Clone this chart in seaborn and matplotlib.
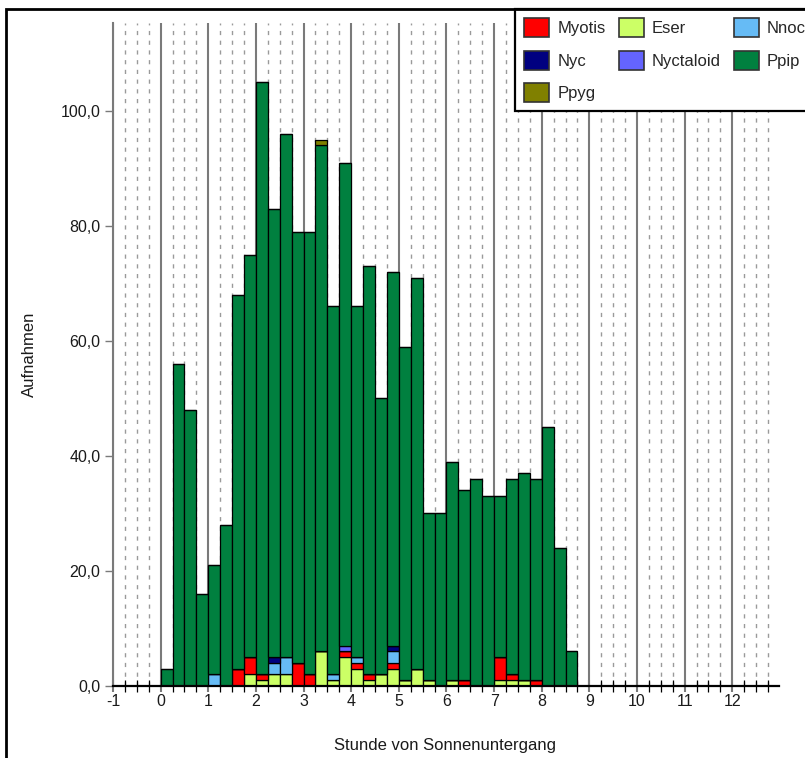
import matplotlib
matplotlib.use("Agg")
import matplotlib.pyplot as plt
from matplotlib.patches import Patch, Rectangle
from matplotlib.ticker import FuncFormatter
import numpy as np
import pandas as pd
import seaborn as sns

# ── Data: recordings per quarter hour after sunset ───────────────────────────
bin_start = np.arange(0, 8.75, 0.25)      # 35 quarter-hour bins, 0 … 8.5

eser      = [0, 0, 0, 0, 0, 0, 0, 2, 1, 2, 2, 0, 0, 6, 1, 5, 3, 1, 2, 3,
             1, 3, 1, 0, 1, 0, 0, 0, 1, 1, 1, 0, 0, 0, 0]
myotis    = [0, 0, 0, 0, 0, 0, 3, 3, 1, 0, 0, 4, 2, 0, 0, 1, 1, 1, 0, 1,
             0, 0, 0, 0, 0, 1, 0, 0, 4, 1, 0, 1, 0, 0, 0]
nnoc      = [0, 0, 0, 0, 2, 0, 0, 0, 0, 2, 3, 0, 0, 0, 1, 0, 1, 0, 0, 2,
             0, 0, 0, 0, 0, 0, 0, 0, 0, 0, 0, 0, 0, 0, 0]
nyc       = [0, 0, 0, 0, 0, 0, 0, 0, 0, 1, 0, 0, 0, 0, 0, 0, 0, 0, 0, 1,
             0, 0, 0, 0, 0, 0, 0, 0, 0, 0, 0, 0, 0, 0, 0]
nyctaloid = [0, 0, 0, 0, 0, 0, 0, 0, 0, 0, 0, 0, 0, 0, 0, 1, 0, 0, 0, 0,
             0, 0, 0, 0, 0, 0, 0, 0, 0, 0, 0, 0, 0, 0, 0]
ppip      = [3, 56, 48, 16, 19, 28, 65, 70, 103, 78, 91, 75, 77, 88, 64, 84,
             61, 71, 48, 65, 58, 68, 29, 30, 38, 33, 36, 33, 28, 34, 36, 35,
             45, 24, 6]
ppyg      = [0, 0, 0, 0, 0, 0, 0, 0, 0, 0, 0, 0, 0, 1, 0, 0, 0, 0, 0, 0,
             0, 0, 0, 0, 0, 0, 0, 0, 0, 0, 0, 0, 0, 0, 0]

species = {
    "Myotis": myotis, "Eser": eser, "Nnoc": nnoc, "Nyc": nyc,
    "Nyctaloid": nyctaloid, "Ppip": ppip, "Ppyg": ppyg,
}
colors = {
    "Myotis": "#ff0000", "Eser": "#ccff66", "Nnoc": "#66bbf5",
    "Nyc": "#000080", "Nyctaloid": "#6464ff", "Ppip": "#00803f",
    "Ppyg": "#808000",
}
# seaborn stacks the last hue level at the bottom
stack_order = ["Ppyg", "Ppip", "Nyctaloid", "Nyc", "Nnoc", "Myotis", "Eser"]
# legend fills column-wise: rows read Myotis Eser Nnoc / Nyc Nyctaloid Ppip / Ppyg
legend_order = ["Myotis", "Nyc", "Ppyg", "Eser", "Nyctaloid", "Nnoc", "Ppip"]

rows = []
for name, counts in species.items():
    for h, c in zip(bin_start, counts):
        rows.append({"hour": h + 0.125, "species": name, "count": c})
df = pd.DataFrame(rows)

# ── Plot ─────────────────────────────────────────────────────────────────────
sns.set_theme(style="white")
plt.rcParams["font.family"] = ["Liberation Sans", "DejaVu Sans"]
plt.rcParams["axes.unicode_minus"] = False

fig = plt.figure(figsize=(8.05, 7.58), dpi=100)
ax = fig.add_axes([113 / 805, 1 - 686 / 758, 666 / 805, 663 / 758])
ax.set_axisbelow(True)

edges = [float(e) for e in np.arange(0, 9.0, 0.25)]
sns.histplot(
    data=df, x="hour", weights="count", hue="species",
    hue_order=stack_order, palette=colors, multiple="stack",
    bins=edges, alpha=1, edgecolor="black",
    linewidth=0.9, legend=False, ax=ax,
)

ax.set_xlim(-1, 12.98)
ax.set_ylim(0, 115.3)
ax.set_xticks(range(-1, 13))
ax.set_xticks(np.arange(-1, 13, 0.25), minor=True)
ax.set_yticks(range(0, 101, 20))
ax.yaxis.set_major_formatter(FuncFormatter(lambda v, p: f"{v:.1f}".replace(".", ",")))

ax.grid(which="major", axis="x", color="#7a7a7a", lw=1.5)
ax.grid(which="minor", axis="x", color="#9a9a9a", lw=1.0, ls=(0, (3, 4)))
ax.grid(which="major", axis="y", visible=False)

for s in ("top", "right"):
    ax.spines[s].set_visible(False)
ax.spines["bottom"].set_color("black")
ax.spines["bottom"].set_linewidth(1.6)
ax.spines["left"].set_color("#7a7a7a")
ax.spines["left"].set_linewidth(1.5)

tick_font = 11.5
ax.tick_params(axis="x", which="major", direction="inout", length=9, width=1.5,
               color="#7a7a7a", labelsize=tick_font, labelcolor="#1a1a1a", pad=1)
ax.tick_params(axis="x", which="minor", direction="inout", length=8, width=0.9,
               color="black")
ax.tick_params(axis="y", which="major", direction="out", length=6, width=1,
               color="#7a7a7a", labelsize=tick_font, labelcolor="#1a1a1a", pad=3)
ax.tick_params(bottom=True, left=True)
ax.tick_params(axis="x", which="minor", bottom=True)

ax.set_xlabel("Stunde von Sonnenuntergang", fontsize=12, color="#1a1a1a")
ax.set_ylabel("Aufnahmen", fontsize=12, color="#1a1a1a")
ax.xaxis.set_label_coords(0.499, -0.078)
ax.yaxis.set_label_coords(-0.114, 0.5)

handles = [Patch(facecolor=colors[n], edgecolor="#333", lw=1.2, label=n)
           for n in legend_order]
fig.legend(handles=handles, loc="upper left", ncol=3,
           bbox_to_anchor=(515 / 805, 1 - 9 / 758), borderaxespad=0,
           fontsize=12, handlelength=1.5, handleheight=1.38,
           handletextpad=0.48, labelspacing=0.8, columnspacing=0.8,
           borderpad=0.55, frameon=True, fancybox=False,
           edgecolor="black", framealpha=1)
fig.legends[0].get_frame().set_linewidth(1.6)

# outer frame of the original export
fig.patches.append(Rectangle((6 / 805, -0.1), 1.2, 1.1 - 9 / 758,
                             transform=fig.transFigure, fill=False,
                             edgecolor="black", lw=2.0, zorder=10))

fig.savefig("out.png", dpi=100, facecolor="white")
